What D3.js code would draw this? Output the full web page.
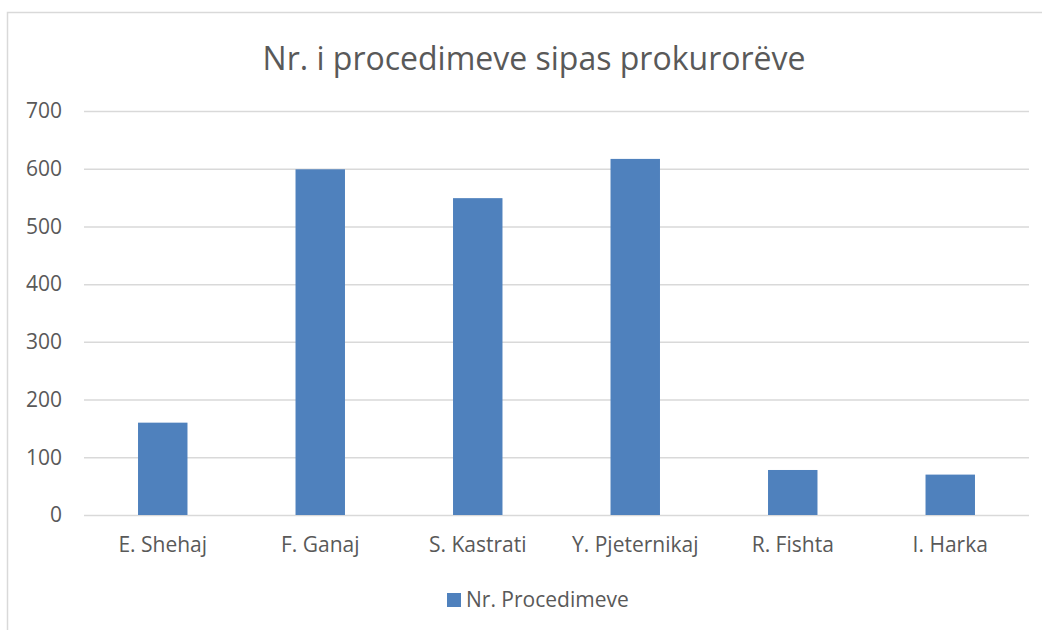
<!DOCTYPE html>
<html><head><meta charset="utf-8">
<script src="https://cdn.jsdelivr.net/npm/d3@7"></script>
<style>html,body{margin:0;padding:0;background:#fff;}svg{display:block;}</style>
</head><body>
<svg id="c" width="1042" height="630"></svg>
<script>
const title = "Nr. i procedimeve sipas prokurorëve";
const categories = ["E. Shehaj","F. Ganaj","S. Kastrati","Y. Pjeternikaj","R. Fishta","I. Harka"];
const values = [160, 599, 549, 617, 78, 70];
const seriesName = "Nr. Procedimeve";
const yTicks = [0,100,200,300,400,500,600,700];

const svg = d3.select("#c");
const font = "'Open Sans', sans-serif";
const txt = "#595959", grid = "#d9d9d9", barCol = "#4f81bd";
const fs = 21;

svg.append("rect").attr("x",7.5).attr("y",12.5).attr("width",1100).attr("height",700)
  .attr("fill","#fff").attr("stroke","#d9d9d9").attr("stroke-width",1.5);

const m = {left:84, right:1029, top:111, bottom:515};
const x = d3.scaleBand().domain(categories).range([m.left,m.right]).paddingInner(0.686).paddingOuter(0.343);
const y = d3.scaleLinear().domain([0,700]).range([m.bottom,m.top]);

const yAxis = svg.append("g").attr("transform",`translate(${m.left},0)`)
  .call(d3.axisLeft(y).tickValues(yTicks).tickSize(-(m.right-m.left)).tickPadding(22));
yAxis.select(".domain").remove();
yAxis.selectAll("line").attr("stroke",grid).attr("stroke-width",1.5);
yAxis.selectAll("text").attr("fill",txt).attr("font-family",font).attr("font-size",fs);

svg.append("g").selectAll("rect").data(values).join("rect")
  .attr("x",(d,i)=>x(categories[i])).attr("width",x.bandwidth())
  .attr("y",d=>y(d)).attr("height",d=>y(0)-y(d)).attr("fill",barCol);

const xAxis = svg.append("g").attr("transform",`translate(0,${m.bottom})`)
  .call(d3.axisBottom(x).tickSize(0).tickPadding(22));
xAxis.select(".domain").remove();
xAxis.selectAll("text").attr("fill",txt).attr("font-family",font).attr("font-size",fs);

svg.append("text").attr("x",534).attr("y",70).attr("text-anchor","middle")
  .attr("fill",txt).attr("font-family",font).attr("font-size",32).text(title);

const lg = svg.append("g");
lg.append("rect").attr("x",447).attr("y",593).attr("width",14).attr("height",14).attr("fill",barCol);
lg.append("text").attr("x",466).attr("y",607).attr("fill",txt).attr("font-family",font).attr("font-size",fs).text(seriesName);
</script>
</body></html>
